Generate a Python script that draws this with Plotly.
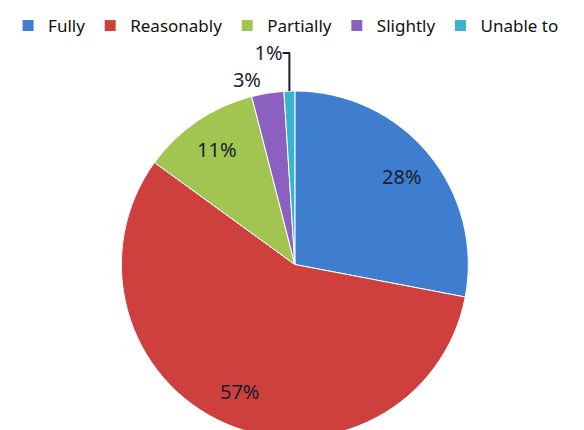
import plotly.graph_objects as go

categories = ["Fully", "Reasonably", "Partially", "Slightly", "Unable to"]
values = [28, 57, 11, 3, 1]
colors = ["#3F7ECF", "#CD403D", "#A2C552", "#8C60C0", "#38B4CE"]
fill_text_pos = ["none", "none", "none", "outside", "outside"]
ring_text_pos = ["inside", "inside", "inside", "outside", "outside"]

TXT = "#1c1c2c"
FONT = "Noto Sans"

common = dict(
    labels=categories,
    values=values,
    sort=False,
    direction="clockwise",
    rotation=0,
    texttemplate="%{percent:.0%}",
    automargin=False,
    domain=dict(x=[0, 0.97], y=[0, 1]),
)

# coloured pie (carries legend + outside labels)
fig = go.Figure(go.Pie(
    **common,
    marker=dict(colors=colors, line=dict(color="white", width=1)),
    textposition=fill_text_pos,
    textfont=dict(family=FONT, size=20, color=TXT),
    outsidetextfont=dict(family=FONT, size=20, color=TXT),
))

# transparent ring on top, used to place the inside labels further out
fig.add_trace(go.Pie(
    **common,
    hole=0.6,
    marker=dict(colors=["rgba(0,0,0,0)"] * len(values), line=dict(width=0)),
    textposition=ring_text_pos,
    insidetextorientation="horizontal",
    insidetextfont=dict(family=FONT, size=20, color=TXT),
    outsidetextfont=dict(family=FONT, size=20, color="rgba(0,0,0,0)"),
    showlegend=False,
    hoverinfo="skip",
))

fig.update_layout(
    width=584, height=430,
    margin=dict(l=0, r=0, t=82, b=0),
    paper_bgcolor="white",
    showlegend=True,
    legend=dict(
        orientation="h", x=-0.012, y=1.24, xanchor="left", yanchor="top",
        xref="paper", yref="paper",
        font=dict(family=FONT, size=17, color="#111"),
        itemwidth=30, traceorder="normal",
    ),
)

fig.write_html("out.html")
